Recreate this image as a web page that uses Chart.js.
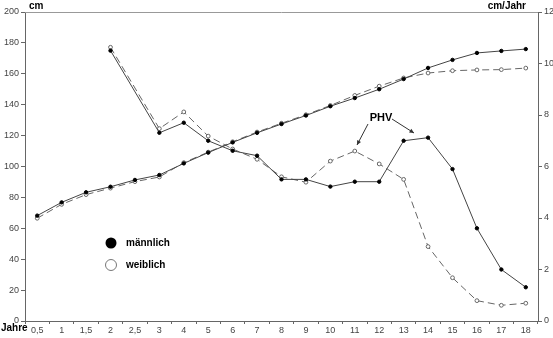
<!DOCTYPE html>
<html><head><meta charset="utf-8">
<script src="https://cdn.jsdelivr.net/npm/chart.js@4/dist/chart.umd.min.js"></script>
<style>html,body{margin:0;padding:0;background:#fff;}#wrap{position:relative;width:553px;height:338px;}</style>
</head><body><div id="wrap"><canvas id="c" width="553" height="338"></canvas></div>
<script>
const categories = ['0,5','1','1,5','2','2,5','3','4','5','6','7','8','9','10','11','12','13','14','15','16','17','18'];
const heightMale   = [68.2,76.8,83.3,86.9,91.3,94.5,102,109,115.6,121.8,127.5,133,139,144.3,150,156.6,163.8,169,173.5,174.8,176];
const heightFemale = [66.5,75.5,81.8,86,90.2,93.2,102.5,109.3,116,122.3,128,133.5,139.5,146,152,157.3,160.5,162,162.5,162.7,163.7];
const velocityMale   = [null,null,null,10.5,null,7.31,7.70,7.0,6.61,6.42,5.50,5.50,5.22,5.41,5.41,7.0,7.12,5.90,3.60,2.0,1.31];
const velocityFemale = [null,null,null,10.63,null,7.47,8.12,7.18,6.68,6.28,5.6,5.39,6.21,6.60,6.10,5.50,2.89,1.68,0.79,0.61,0.69];
const leftTicks = [0,20,40,60,80,100,120,140,160,180,200];
const rightTicks = [0,2,4,6,8,10,12];

const FONT = '"Liberation Sans", Arial, sans-serif';
Chart.defaults.font.family = FONT;

const male = {borderColor:'#444', borderWidth:1, pointRadius:1.7, pointBackgroundColor:'#000', pointBorderColor:'#000', pointBorderWidth:1, tension:0, spanGaps:true};
const female = {borderColor:'#666', borderWidth:1, borderDash:[7,4], pointRadius:1.9, pointBackgroundColor:'#fff', pointBorderColor:'#666', pointBorderWidth:1, tension:0, spanGaps:true};

const overlay = {
  id:'overlay',
  afterDraw(chart){
    const ctx = chart.ctx, a = chart.chartArea;
    ctx.save();
    ctx.strokeStyle = '#999'; ctx.lineWidth = 1;
    ctx.beginPath(); ctx.moveTo(a.left, a.top+0.5); ctx.lineTo(a.right, a.top+0.5); ctx.stroke();
    ctx.fillStyle = '#000';
    ctx.font = 'bold 10px ' + FONT;
    ctx.textBaseline = 'middle';
    ctx.textAlign = 'left';
    ctx.fillText('cm', 29, 6);
    ctx.textAlign = 'right';
    ctx.fillText('cm/Jahr', 526, 6);
    ctx.textAlign = 'left';
    ctx.fillText('Jahre', 1, 328);
    ctx.beginPath(); ctx.arc(111, 243, 5.5, 0, Math.PI*2); ctx.fillStyle='#000'; ctx.fill();
    ctx.beginPath(); ctx.arc(111, 265, 5.5, 0, Math.PI*2); ctx.fillStyle='#fff'; ctx.fill(); ctx.strokeStyle='#777'; ctx.stroke();
    ctx.fillStyle = '#000';
    ctx.font = 'bold 10px ' + FONT;
    ctx.fillText('männlich', 126, 243);
    ctx.fillText('weiblich', 126, 265);
    ctx.font = 'bold 11px ' + FONT;
    ctx.textAlign = 'center';
    ctx.fillText('PHV', 381, 118);
    function arrow(x1,y1,x2,y2){
      ctx.strokeStyle='#333'; ctx.fillStyle='#333'; ctx.lineWidth=1;
      ctx.beginPath(); ctx.moveTo(x1,y1); ctx.lineTo(x2,y2); ctx.stroke();
      const ang = Math.atan2(y2-y1,x2-x1), L=5, W=0.45;
      ctx.beginPath(); ctx.moveTo(x2,y2);
      ctx.lineTo(x2-L*Math.cos(ang-W), y2-L*Math.sin(ang-W));
      ctx.lineTo(x2-L*Math.cos(ang+W), y2-L*Math.sin(ang+W));
      ctx.closePath(); ctx.fill();
    }
    arrow(368,124,357,145);
    arrow(392,119,414,133);
    ctx.restore();
  }
};

new Chart(document.getElementById('c'), {
  type:'line',
  data:{
    labels:categories,
    datasets:[
      Object.assign({label:'männlich Größe', data:heightMale, yAxisID:'y'}, male),
      Object.assign({label:'weiblich Größe', data:heightFemale, yAxisID:'y'}, female),
      Object.assign({label:'männlich Wachstum', data:velocityMale, yAxisID:'y2'}, male),
      Object.assign({label:'weiblich Wachstum', data:velocityFemale, yAxisID:'y2'}, female)
    ]
  },
  options:{
    responsive:false, animation:false,
    layout:{padding:{top:12,left:0,right:0,bottom:0}},
    plugins:{legend:{display:false}, tooltip:{enabled:false}},
    scales:{
      x:{
        offset:true,
        grid:{display:true, drawOnChartArea:false, offset:true, tickLength:3, color:'#666'},
        border:{color:'#666'},
        ticks:{color:'#444', font:{size:9}, padding:1, maxRotation:0, autoSkip:false},
        afterFit(s){ s.height = 17; }
      },
      y:{
        position:'left', min:0, max:200,
        afterBuildTicks(s){ s.ticks = leftTicks.map(v=>({value:v})); },
        grid:{display:true, drawOnChartArea:false, tickLength:4, color:'#666'},
        border:{color:'#666'},
        ticks:{color:'#444', font:{size:9}, padding:2},
        afterFit(s){ s.width = 25; }
      },
      y2:{
        position:'right', min:0, max:12,
        afterBuildTicks(s){ s.ticks = rightTicks.map(v=>({value:v})); },
        grid:{display:true, drawOnChartArea:false, tickLength:4, color:'#666'},
        border:{color:'#666'},
        ticks:{color:'#444', font:{size:9}, padding:2},
        afterFit(s){ s.width = 15; }
      }
    }
  },
  plugins:[overlay]
});
</script></body></html>
